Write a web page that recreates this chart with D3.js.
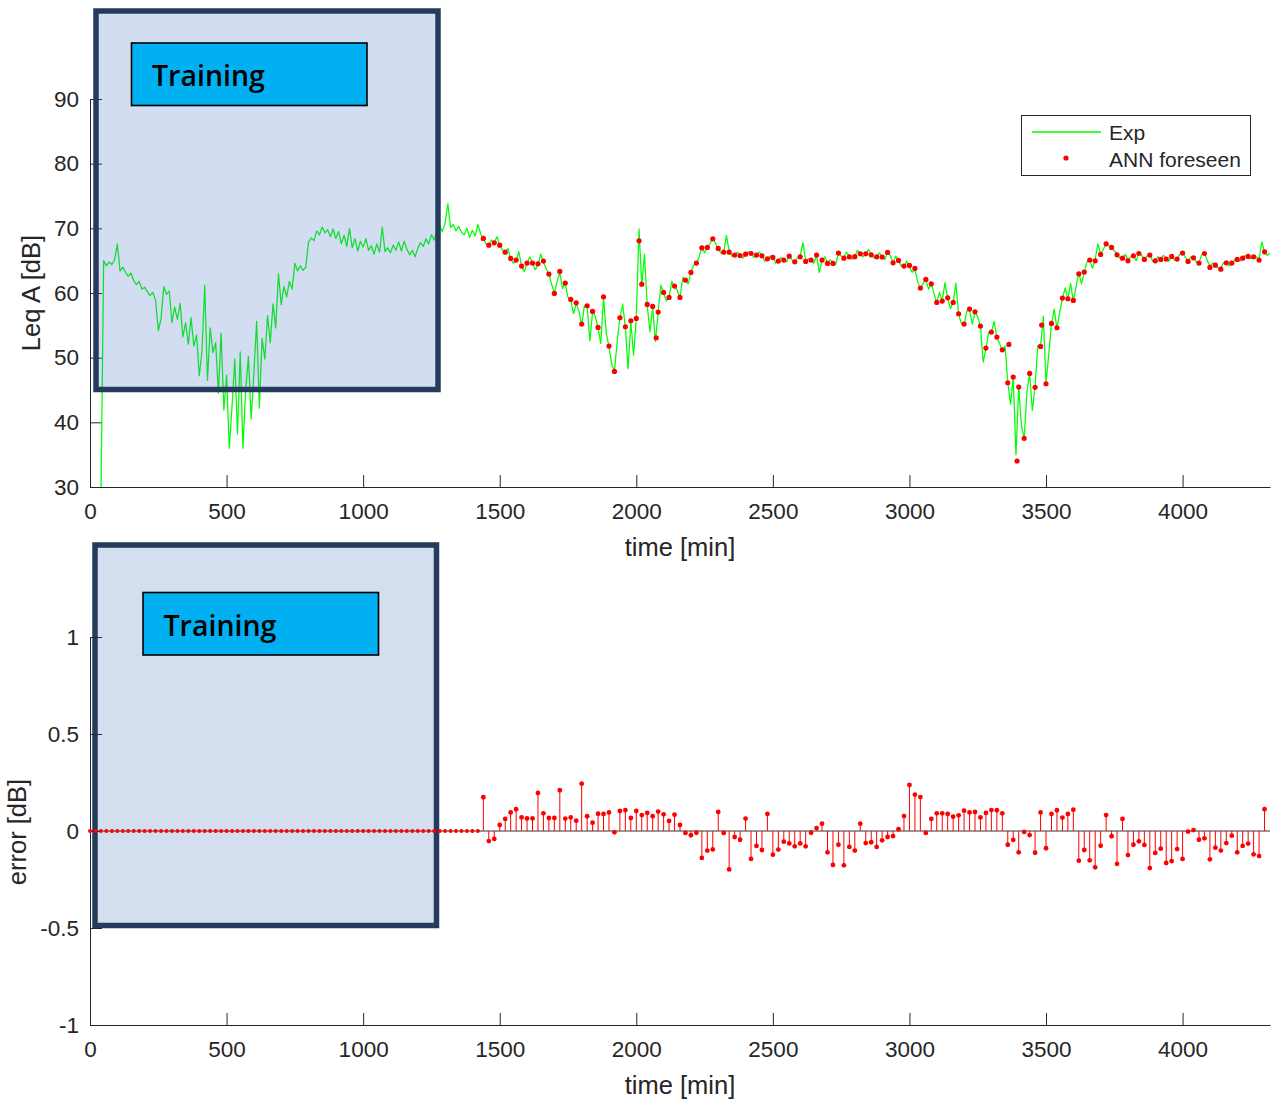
<!DOCTYPE html>
<html>
<head>
<meta charset="utf-8">
<script src="https://cdn.jsdelivr.net/npm/d3@7"></script>
<style>
  body { margin: 0; background: #fff; }
  svg { display: block; }
  .tick text, .lbl { font-family: "Liberation Sans", Arial, sans-serif; fill: #262626; }
</style>
</head>
<body>
<svg id="fig" width="1276" height="1099"></svg>
<script>
// Measured A-weighted level Leq A [dB], one sample every 10 minutes from minute 40
const expStart = 40, expStep = 10;
const expValues = [
  28, 65.0, 64.2, 64.8, 64.4, 65.1, 67.6, 63.4, 64.0, 63.2,
  62.6, 63.1, 61.9, 61.3, 61.8, 60.6, 60.9, 60.2, 59.6, 60.1,
  58.9, 54.2, 56.0, 61.0, 59.8, 60.3, 55.4, 57.8, 55.9, 58.4,
  53.2, 55.4, 52.1, 56.2, 51.8, 53.5, 47.2, 51.0, 61.2, 46.5,
  54.6, 50.8, 52.3, 44.5, 53.8, 41.9, 47.3, 36.0, 42.5, 49.8,
  38.2, 50.9, 36.0, 45.1, 50.2, 40.5, 47.6, 55.6, 42.2, 53.0,
  49.8, 56.5, 52.3, 58.3, 54.6, 63.0, 58.2, 61.0, 59.4, 61.8,
  60.6, 64.6, 63.4, 64.2, 63.5, 64.0, 67.9, 68.5, 68.1, 69.6,
  69.0, 70.2, 69.3, 69.8, 68.7, 69.9, 68.4, 69.5, 67.6, 68.9,
  67.2, 70.0, 67.0, 68.4, 66.5, 68.0, 67.1, 68.4, 66.6, 67.3,
  66.0, 67.6, 66.3, 70.2, 66.4, 67.0, 66.2, 67.4, 66.6, 67.9,
  66.5, 68.0, 66.8, 65.9, 66.6, 65.6, 66.9, 67.8, 67.2, 68.4,
  67.6, 69.0, 68.2, 69.6, 70.4, 69.5, 70.8, 73.8, 70.1, 70.6,
  69.6, 70.3, 69.4, 69.0, 70.0, 68.6, 69.7, 68.8, 70.6, 69.2,
  // from minute 1440
  68.3, 67.6, 67.5, 68.2, 67.8, 68.7, 67.4, 66.6, 66.3, 66.9,
  65.3, 64.6, 65.0, 66.4, 64.1, 63.3, 64.6, 65.6, 64.6, 63.6,
  64.3, 66.0, 64.8, 63.8, 62.9, 61.4, 59.9, 61.8, 63.1, 60.7,
  61.5, 59.3, 58.9, 56.8, 58.4, 57.2, 55.0, 58.0, 58.0, 52.6,
  57.1, 56.4, 54.6, 52.2, 59.3, 53.8, 51.7, 49.0, 47.9, 52.5,
  56.1, 58.3, 54.7, 48.3, 55.6, 50.4, 56.0, 69.9, 61.3, 66.0,
  58.1, 54.0, 57.8, 52.5, 57.0, 61.2, 60.0, 58.8, 59.3, 61.8,
  61.0, 60.4, 59.3, 62.4, 62.0, 61.4, 63.2, 64.3, 64.6, 65.6,
  67.1, 66.2, 67.1, 67.6, 68.5, 67.7, 66.8, 66.2, 66.3, 68.9,
  66.5, 65.7, 65.9, 66.3, 65.9, 65.4, 66.0, 66.4, 66.3, 65.5,
  65.9, 66.3, 65.9, 64.9, 65.2, 65.7, 65.6, 64.6, 65.0, 65.5,
  65.2, 64.8, 65.8, 65.1, 64.9, 65.4, 65.7, 67.8, 65.0, 65.3,
  65.1, 64.6, 65.9, 63.2, 65.1, 65.6, 64.7, 65.1, 64.8, 64.4,
  66.2, 65.7, 65.6, 66.3, 65.7, 65.2, 65.7, 66.6, 66.0, 65.6,
  66.1, 66.7, 66.0, 65.4, 65.7, 66.2, 65.6, 65.2, 66.3, 65.8,
  64.7, 65.7, 65.0, 64.2, 64.1, 64.9, 64.0, 63.2, 63.6, 61.8,
  60.6, 61.5, 62.1, 60.6, 61.4, 59.9, 58.5, 60.1, 58.7, 61.6,
  59.2, 57.6, 58.5, 61.5, 56.7, 55.3, 55.1, 57.2, 57.4, 55.2,
  57.0, 56.3, 54.8, 49.3, 51.4, 53.9, 53.9, 55.6, 53.1, 52.2,
  51.1, 51.8, 46.2, 42.8, 47.1, 35.0, 45.6, 39.5, 37.5, 44.6,
  47.6, 41.8, 45.5, 51.9, 51.6, 56.4, 46.1, 50.5, 55.2, 57.5,
  54.5, 57.0, 59.1, 60.8, 59.0, 61.5, 58.7, 61.0, 63.1, 61.4,
  63.3, 64.8, 65.2, 63.8, 65.2, 67.6, 66.0, 66.8, 67.5, 67.3,
  67.1, 66.5, 66.1, 65.4, 65.3, 66.0, 65.1, 65.6, 65.8, 65.0,
  66.2, 65.8, 65.3, 65.7, 66.1, 64.9, 65.1, 65.6, 65.3, 65.8,
  65.4, 64.9, 65.8, 65.1, 65.3, 66.0, 66.3, 65.5, 64.9, 65.6,
  65.4, 64.8, 64.7, 65.9, 66.2, 65.1, 64.1, 64.6, 64.4, 63.9,
  63.8, 64.7, 64.7, 64.2, 64.6, 65.1, 65.3, 64.9, 65.5, 65.8,
  65.7, 65.3, 65.7, 65.6, 65.2, 67.9, 66.3, 65.8, 66.2
];

// ANN forecast, one value every 20 minutes from minute 1440
const annStart = 1440, annStep = 20;
const annValues = [
  68.44, 67.40, 67.76, 67.40, 66.32, 65.35, 65.09, 64.16, 64.62, 64.62,
  64.52, 64.93, 62.92, 59.93, 63.34, 61.53, 59.01, 58.49, 55.19, 58.03,
  57.15, 54.68, 59.41, 51.79, 47.88, 56.17, 54.78, 55.71, 56.07, 61.37,
  58.23, 57.92, 57.05, 60.09, 59.32, 61.07, 59.32, 62.00, 63.18, 64.62,
  66.99, 67.04, 68.38, 66.89, 66.32, 66.32, 65.86, 65.80, 66.01, 66.11,
  65.86, 65.75, 65.29, 65.50, 64.93, 65.09, 65.70, 64.82, 65.60, 64.88,
  65.09, 65.86, 65.09, 64.57, 64.57, 66.17, 65.39, 65.60, 65.62, 66.06,
  66.06, 65.91, 65.60, 65.55, 66.27, 64.67, 65.04, 64.16, 64.26, 63.80,
  60.76, 62.10, 61.42, 58.55, 58.75, 59.26, 58.55, 56.79, 55.19, 57.51,
  57.10, 54.88, 51.48, 53.96, 53.18, 51.22, 46.12, 47.00, 45.46, 37.52,
  47.57, 45.41, 51.74, 45.97, 55.30, 54.63, 59.21, 59.11, 58.85, 62.97,
  63.23, 65.09, 64.98, 65.96, 67.61, 67.04, 65.91, 65.39, 64.98, 65.75,
  66.11, 65.19, 65.86, 64.98, 65.19, 65.24, 65.65, 65.24, 66.17, 64.88,
  65.44, 64.62, 66.11, 63.95, 64.31, 63.69, 64.67, 64.62, 65.19, 65.39,
  65.65, 65.60, 65.09, 66.37
];
// ANN outputs that fall between the 20-minute slots
const annExtraTimes  = [2010, 2073, 3364, 3394, 3484];
const annExtraValues = [68.07, 53.08, 52.05, 34.02, 55.04];

// Forecast error [dB], every 20 minutes from minute 0 (zero over the training window)
const errStart = 0, errStep = 20;
const errValues = [
  0, 0, 0, 0, 0, 0, 0, 0, 0, 0, 0, 0, 0, 0, 0, 0, 0, 0, 0, 0,
  0, 0, 0, 0, 0, 0, 0, 0, 0, 0, 0, 0, 0, 0, 0, 0, 0, 0, 0, 0,
  0, 0, 0, 0, 0, 0, 0, 0, 0, 0, 0, 0, 0, 0, 0, 0, 0, 0, 0, 0,
  0, 0, 0, 0, 0, 0, 0, 0, 0, 0, 0, 0,
  0.174, -0.052, -0.041, 0.031, 0.062, 0.096, 0.112, 0.070, 0.065, 0.065,
  0.196, 0.091, 0.067, 0.067, 0.210, 0.064, 0.070, 0.053, 0.244, 0.076,
  0.043, 0.089, 0.088, 0.096, -0.007, 0.103, 0.108, 0.067, 0.103, 0.082,
  0.093, 0.076, 0.100, 0.086, 0.052, 0.084, 0.031, -0.010, -0.022, -0.009,
  -0.139, -0.101, -0.095, 0.098, -0.010, -0.198, -0.031, -0.045, 0.064, -0.144,
  -0.077, -0.098, 0.088, -0.122, -0.096, -0.055, -0.064, -0.079, -0.064, -0.079,
  -0.009, 0.015, 0.038, -0.110, -0.175, -0.071, -0.177, -0.082, -0.101, 0.038,
  -0.062, -0.058, -0.082, -0.048, -0.031, -0.026, 0.009, 0.077, 0.237, 0.187,
  0.175, -0.010, 0.062, 0.091, 0.091, 0.088, 0.074, 0.081, 0.105, 0.096,
  0.098, 0.070, 0.093, 0.108, 0.107, 0.091, -0.071, -0.046, -0.110, -0.005,
  -0.021, -0.112, 0.096, -0.089, 0.088, 0.107, 0.069, 0.088, 0.110, -0.153,
  -0.098, -0.151, -0.187, -0.076, 0.082, -0.027, -0.169, 0.062, -0.124, -0.071,
  -0.053, -0.072, -0.191, -0.113, -0.091, -0.165, -0.155, -0.093, -0.144, -0.003,
  0.005, -0.045, -0.038, -0.146, -0.086, -0.101, -0.062, -0.024, -0.110, -0.077,
  -0.065, -0.120, -0.129, 0.112
];

const timeTicks  = [0, 500, 1000, 1500, 2000, 2500, 3000, 3500, 4000];
const levelTicks = [30, 40, 50, 60, 70, 80, 90];
const errTicks   = [-1, -0.5, 0, 0.5, 1];
const timeDomain  = [0, 4320];
const levelDomain = [30, 90];
const errDomain   = [-1, 1];

const seriesNames = ["Exp", "ANN foreseen"];
const trainingLabel = "Training";

// ---------- build point lists ----------
const expPts = expValues.map((v, i) => ({ t: expStart + i * expStep, v }));
const annPts = annValues.map((v, i) => ({ t: annStart + i * annStep, v }))
  .concat(annExtraTimes.map((t, i) => ({ t, v: annExtraValues[i] })));
const errPts = errValues.map((v, i) => ({ t: errStart + i * errStep, v }));

const svg = d3.select("#fig");
const GREEN = "#00ff00", RED = "#ff0000", AXIS = "#262626";
const TICK_FONT = 22.5, LABEL_FONT = 25.5;

const x = d3.scaleLinear().domain(timeDomain).range([90, 1270]);
const yTop = d3.scaleLinear().domain(levelDomain).range([487, 99]);
const yBot = d3.scaleLinear().domain(errDomain).range([1025, 637]);

function styleAxis(g) {
  g.selectAll("path.domain").attr("stroke", AXIS).attr("stroke-width", 1);
  g.selectAll(".tick line").attr("stroke", AXIS).attr("stroke-width", 1);
  g.selectAll(".tick text").attr("font-size", TICK_FONT).attr("fill", AXIS);
}

function drawAxes(y, yTicksArr, yLabel, xAxisY, xLabelY, yLabelX, yLabelCy) {
  const gx = svg.append("g").attr("transform", `translate(0,${xAxisY})`)
    .call(d3.axisBottom(x).tickValues(timeTicks).tickFormat(d3.format("d"))
      .tickSizeInner(-12).tickSizeOuter(0).tickPadding(16));
  styleAxis(gx);
  const gy = svg.append("g").attr("transform", `translate(90,0)`)
    .call(d3.axisLeft(y).tickValues(yTicksArr).tickFormat(d => String(d))
      .tickSizeInner(-12).tickSizeOuter(0).tickPadding(11));
  styleAxis(gy);
  svg.append("text").attr("class", "lbl")
    .attr("x", 680).attr("y", xLabelY).attr("text-anchor", "middle")
    .attr("font-size", LABEL_FONT).text("time [min]");
  svg.append("text").attr("class", "lbl")
    .attr("transform", `translate(${yLabelX},${yLabelCy}) rotate(-90)`)
    .attr("text-anchor", "middle").attr("font-size", LABEL_FONT).text(yLabel);
}

// training-window annotation: tinted panel with a labelled box
function trainingBox(g, outer, inner, overlay) {
  g.append("rect")
    .attr("x", outer.x).attr("y", outer.y).attr("width", outer.w).attr("height", outer.h)
    .attr("fill", overlay ? "#4472c4" : "#d3deef")
    .attr("fill-opacity", overlay ? 0.24 : 1)
    .attr("stroke", "none");
  g.append("rect")
    .attr("x", outer.x).attr("y", outer.y).attr("width", outer.w).attr("height", outer.h)
    .attr("fill", "none").attr("stroke", "#243b5e").attr("stroke-width", 5.5);
  g.append("rect")
    .attr("x", inner.x).attr("y", inner.y).attr("width", inner.w).attr("height", inner.h)
    .attr("fill", "#00b0f0").attr("stroke", "#000").attr("stroke-width", 1.6);
  g.append("text")
    .attr("x", inner.x + 20.5).attr("y", inner.y + 43)
    .attr("font-family", "'Open Sans', 'Noto Sans', sans-serif")
    .attr("font-weight", 600).attr("font-size", 28.5).attr("fill", "#000")
    .text(trainingLabel);
}

// ================= top panel: Leq A =================
drawAxes(yTop, levelTicks, "Leq A [dB]", 487, 556, 40, 293);

svg.append("clipPath").attr("id", "clipTop")
  .append("rect").attr("x", 90).attr("y", 99).attr("width", 1180).attr("height", 388);

svg.append("path")
  .datum(expPts)
  .attr("clip-path", "url(#clipTop)")
  .attr("fill", "none").attr("stroke", GREEN).attr("stroke-width", 1.25)
  .attr("stroke-linejoin", "round")
  .attr("d", d3.line().x(d => x(d.t)).y(d => yTop(d.v)));

svg.append("g").selectAll("circle").data(annPts).join("circle")
  .attr("cx", d => x(d.t)).attr("cy", d => yTop(d.v)).attr("r", 2.6)
  .attr("fill", RED);

trainingBox(svg.append("g"),
  { x: 96, y: 11, w: 342, h: 378.5 },
  { x: 131.5, y: 43, w: 235.5, h: 62.5 }, true);

// legend
const lg = svg.append("g");
lg.append("rect").attr("x", 1021.5).attr("y", 115.5).attr("width", 229).attr("height", 60)
  .attr("fill", "#fff").attr("stroke", AXIS).attr("stroke-width", 1);
lg.append("path").attr("d", "M1032,132H1101")
  .attr("stroke", GREEN).attr("stroke-width", 1.6).attr("fill", "none");
lg.append("circle").attr("cx", 1066).attr("cy", 158).attr("r", 2.6).attr("fill", RED);
lg.selectAll("text.leg").data(seriesNames).join("text")
  .attr("class", "lbl leg").attr("x", 1109).attr("y", (d, i) => 139.5 + i * 27)
  .attr("font-size", 21).text(d => d);

// ================= bottom panel: error =================
trainingBox(svg.append("g"),
  { x: 95, y: 545, w: 341.5, h: 380.5 },
  { x: 143, y: 592.5, w: 235.5, h: 62.5 }, false);

drawAxes(yBot, errTicks, "error [dB]", 1025, 1094, 26, 832);

// stem baseline
svg.append("line")
  .attr("x1", x(timeDomain[0])).attr("x2", x(timeDomain[1]))
  .attr("y1", yBot(0)).attr("y2", yBot(0))
  .attr("stroke", "#333").attr("stroke-width", 1);

const stems = svg.append("g");
stems.selectAll("line").data(errPts.filter(d => d.v !== 0)).join("line")
  .attr("x1", d => x(d.t)).attr("x2", d => x(d.t))
  .attr("y1", yBot(0)).attr("y2", d => yBot(d.v))
  .attr("stroke", RED).attr("stroke-width", 1);
stems.selectAll("circle").data(errPts).join("circle")
  .attr("cx", d => x(d.t)).attr("cy", d => yBot(d.v))
  .attr("r", d => d.v === 0 ? 2.0 : 2.4)
  .attr("fill", RED);
</script>
</body>
</html>
